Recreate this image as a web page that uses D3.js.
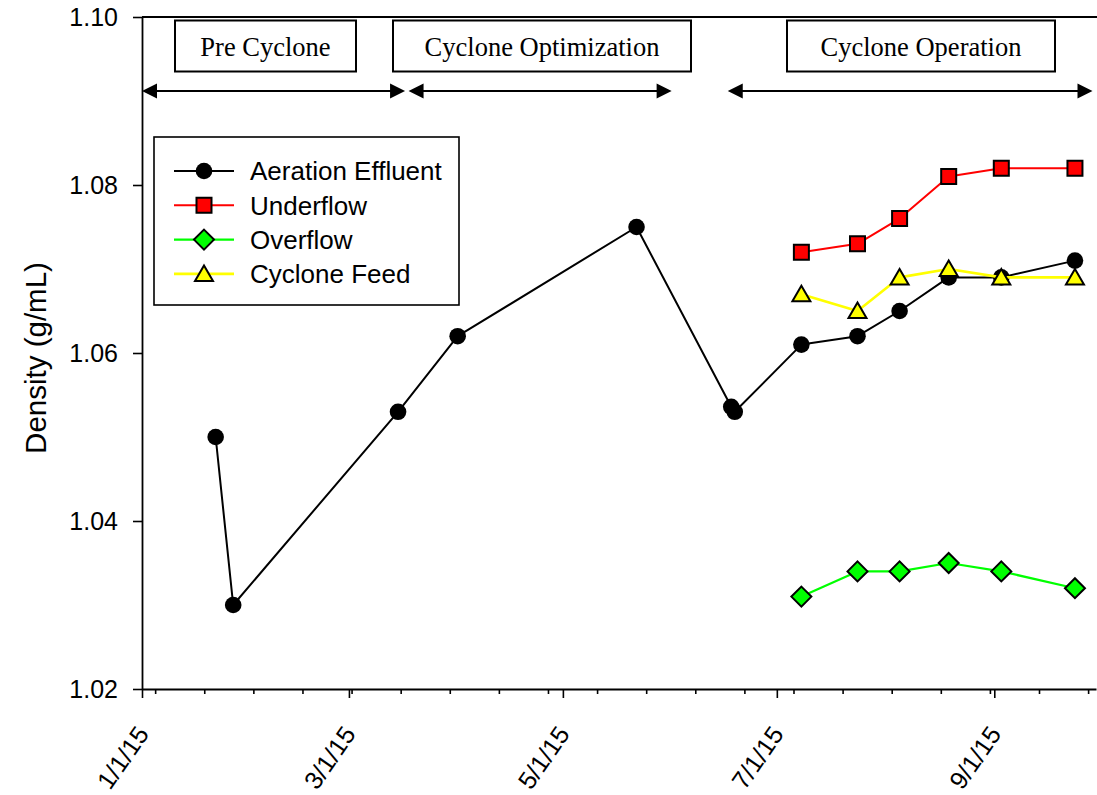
<!DOCTYPE html>
<html>
<head>
<meta charset="utf-8">
<script src="https://cdn.jsdelivr.net/npm/d3@7"></script>
<style>
  html, body { margin: 0; padding: 0; background: #fff; }
  svg { display: block; }
  .sans { font-family: "Liberation Sans", Arial, Helvetica, sans-serif; }
  .serif { font-family: "Liberation Serif", "Times New Roman", Times, serif; }
</style>
</head>
<body>
<script>
// ---- Data ---------------------------------------------------------------
const parse = d3.timeParse("%Y-%m-%d");

const aerationDates  = ["2015-01-22", "2015-01-27", "2015-03-15", "2015-04-01", "2015-05-22",
                        "2015-06-18", "2015-06-19", "2015-07-08", "2015-07-24", "2015-08-05",
                        "2015-08-19", "2015-09-03", "2015-09-24"];
const aerationValues = [1.050, 1.030, 1.053, 1.062, 1.075,
                        1.0536, 1.053, 1.061, 1.062, 1.065,
                        1.069, 1.069, 1.071];

const cycloneDates   = ["2015-07-08", "2015-07-24", "2015-08-05", "2015-08-19", "2015-09-03", "2015-09-24"];
const underflowValues    = [1.072, 1.073, 1.076, 1.081, 1.082, 1.082];
const overflowValues     = [1.031, 1.034, 1.034, 1.035, 1.034, 1.032];
const cycloneFeedValues  = [1.067, 1.065, 1.069, 1.070, 1.069, 1.069];

const seriesNames = ["Aeration Effluent", "Underflow", "Overflow", "Cyclone Feed"];

const yTickValues = [1.02, 1.04, 1.06, 1.08, 1.10];
const xMajorTicks = ["2015-01-01", "2015-03-01", "2015-05-01", "2015-07-01", "2015-09-01"];

// Project phases: label and the date span covered by each arrow
const phaseLabels = ["Pre Cyclone", "Cyclone Optimization", "Cyclone Operation"];
const phaseStarts = ["2015-01-01", "2015-03-18", "2015-06-17"];
const phaseEnds   = ["2015-03-17", "2015-06-01", "2015-09-29"];
const phaseArrowLevel = 1.0912;

// ---- Layout -------------------------------------------------------------
const W = 1097, H = 795;
const plot = { left: 142, right: 1096, top: 17, bottom: 689 };

const svg = d3.select("body").append("svg")
  .attr("width", W).attr("height", H);

const x = d3.scaleTime()
  .domain([parse("2015-01-01"), parse("2015-09-30")])
  .range([plot.left, plot.right]);

const y = d3.scaleLinear()
  .domain([1.02, 1.10])
  .range([plot.bottom, plot.top]);

// ---- Axes ---------------------------------------------------------------
// minor ticks every two weeks
const minorTicks = d3.range(0, 20).map(i => d3.timeHour.offset(new Date(2015, 0, 4, 18), i * 14 * 24));

const xMinor = svg.append("g")
  .attr("transform", `translate(0,${plot.bottom})`)
  .call(d3.axisBottom(x).tickValues(minorTicks).tickSize(5).tickFormat(""));
xMinor.select(".domain").remove();
xMinor.selectAll("line").attr("stroke", "#000").attr("stroke-width", 1.6);

const xAxis = svg.append("g")
  .attr("class", "sans")
  .attr("transform", `translate(0,${plot.bottom})`)
  .call(d3.axisBottom(x)
    .tickValues(xMajorTicks.map(parse))
    .tickSize(9)
    .tickSizeOuter(0)
    .tickFormat(d3.timeFormat("%-m/%-d/%y")));
xAxis.select(".domain").attr("stroke", "#000").attr("stroke-width", 1.8);
xAxis.selectAll(".tick line").attr("stroke", "#000").attr("stroke-width", 1.6);
xAxis.selectAll(".tick text")
  .attr("x", 0).attr("y", 0).attr("dy", "0.36em")
  .attr("transform", "translate(0,40) rotate(-55)")
  .attr("text-anchor", "end")
  .attr("fill", "#000")
  .style("font-size", "25px");

const yAxis = svg.append("g")
  .attr("class", "sans")
  .attr("transform", `translate(${plot.left},0)`)
  .call(d3.axisLeft(y)
    .tickValues(yTickValues)
    .tickSize(9)
    .tickSizeOuter(0)
    .tickPadding(15)
    .tickFormat(d3.format(".2f")));
yAxis.select(".domain").attr("stroke", "#000").attr("stroke-width", 1.8);
yAxis.selectAll(".tick line").attr("stroke", "#000").attr("stroke-width", 1.6);
yAxis.selectAll(".tick text").attr("fill", "#000").style("font-size", "25px");

// top frame line
svg.append("line")
  .attr("x1", plot.left).attr("x2", W)
  .attr("y1", plot.top).attr("y2", plot.top)
  .attr("stroke", "#000").attr("stroke-width", 1.8);

// y-axis title
svg.append("text")
  .attr("class", "sans")
  .attr("transform", `translate(46,${(plot.top + plot.bottom) / 2 + 5}) rotate(-90)`)
  .attr("text-anchor", "middle")
  .style("font-size", "29.5px")
  .text("Density (g/mL)");

// ---- Phase annotations --------------------------------------------------
const phaseBoxes = [
  { x0: 175, x1: 356 },
  { x0: 393, x1: 691 },
  { x0: 787, x1: 1055 }
];
phaseLabels.forEach((label, i) => {
  const b = phaseBoxes[i];
  svg.append("rect")
    .attr("x", b.x0).attr("y", 20.5)
    .attr("width", b.x1 - b.x0).attr("height", 51)
    .attr("fill", "#fff").attr("stroke", "#000").attr("stroke-width", 2);
  svg.append("text")
    .attr("class", "serif")
    .attr("x", (b.x0 + b.x1) / 2).attr("y", 56)
    .attr("text-anchor", "middle")
    .style("font-size", "26.5px")
    .text(label);
});

function arrowHead(px, py, dir) {
  // dir = -1 points left, +1 points right
  const len = 15, half = 7.5;
  return `M${px},${py} L${px - dir * len},${py - half} L${px - dir * len},${py + half} Z`;
}
phaseStarts.forEach((s, i) => {
  const xa = x(parse(s)), xb = x(parse(phaseEnds[i])), ya = y(phaseArrowLevel);
  svg.append("line")
    .attr("x1", xa + 8).attr("x2", xb - 8)
    .attr("y1", ya).attr("y2", ya)
    .attr("stroke", "#000").attr("stroke-width", 2);
  svg.append("path").attr("d", arrowHead(xa, ya, -1)).attr("fill", "#000");
  svg.append("path").attr("d", arrowHead(xb, ya, 1)).attr("fill", "#000");
});

// ---- Series -------------------------------------------------------------
const symbols = {
  circle:   d3.symbol().type(d3.symbolCircle).size(Math.PI * 8.3 * 8.3),
  square:   () => "M-7.5,-7.5H7.5V7.5H-7.5Z",
  diamond:  () => "M0,-10L10,0L0,10L-10,0Z",
  triangle: () => "M0,-8.5L9,7L-9,7Z"
};

const series = [
  { name: seriesNames[0], dates: aerationDates, values: aerationValues,
    line: "#000000", fill: "#000000", symbol: "circle", lw: 2 },
  { name: seriesNames[1], dates: cycloneDates, values: underflowValues,
    line: "#ff0000", fill: "#ff0000", symbol: "square", lw: 2 },
  { name: seriesNames[2], dates: cycloneDates, values: overflowValues,
    line: "#00ff00", fill: "#00ff00", symbol: "diamond", lw: 2.2 },
  { name: seriesNames[3], dates: cycloneDates, values: cycloneFeedValues,
    line: "#ffff00", fill: "#ffff00", symbol: "triangle", lw: 2.6 }
];

const lineGen = d3.line().x(d => x(d.date)).y(d => y(d.value));

series.forEach(s => {
  const pts = s.dates.map((d, i) => ({ date: parse(d), value: s.values[i] }));
  const g = svg.append("g");
  g.append("path")
    .datum(pts)
    .attr("d", lineGen)
    .attr("fill", "none")
    .attr("stroke", s.line)
    .attr("stroke-width", s.lw)
    .attr("stroke-linejoin", "round");
  g.selectAll("path.marker")
    .data(pts)
    .join("path")
    .attr("class", "marker")
    .attr("transform", d => `translate(${x(d.date)},${y(d.value)})`)
    .attr("d", symbols[s.symbol])
    .attr("fill", s.fill)
    .attr("stroke", "#000")
    .attr("stroke-width", s.symbol === "circle" ? 0 : 2);
});

// ---- Legend -------------------------------------------------------------
const legend = svg.append("g").attr("class", "sans");
legend.append("rect")
  .attr("x", 154).attr("y", 137)
  .attr("width", 305).attr("height", 168)
  .attr("fill", "#fff").attr("stroke", "#000").attr("stroke-width", 1.6);

series.forEach((s, i) => {
  const ly = 171 + i * 34.3;
  legend.append("line")
    .attr("x1", 174).attr("x2", 234)
    .attr("y1", ly).attr("y2", ly)
    .attr("stroke", s.line).attr("stroke-width", s.lw);
  legend.append("path")
    .attr("transform", `translate(204,${ly})`)
    .attr("d", symbols[s.symbol])
    .attr("fill", s.fill)
    .attr("stroke", "#000")
    .attr("stroke-width", s.symbol === "circle" ? 0 : 2);
  legend.append("text")
    .attr("x", 250).attr("y", ly).attr("dy", "0.36em")
    .style("font-size", "26px")
    .text(s.name);
});
</script>
</body>
</html>
